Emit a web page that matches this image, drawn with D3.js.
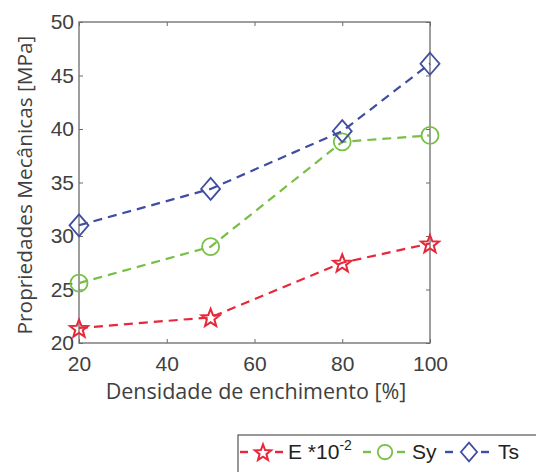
<!DOCTYPE html>
<html><head><meta charset="utf-8">
<script src="https://cdn.jsdelivr.net/npm/d3@7"></script>
<style>body{margin:0;background:#fff}svg{display:block}</style>
</head><body>
<svg id="c" width="536" height="472"></svg>
<script>
const xValues = [20, 50, 80, 100];
const eValues = [21.4, 22.4, 27.5, 29.3];
const syValues = [25.6, 29.0, 38.8, 39.4];
const tsValues = [31.0, 34.4, 39.8, 46.1];
const xTicks = [20, 40, 60, 80, 100];
const yTicks = [20, 25, 30, 35, 40, 45, 50];
const seriesNames = ["E", "Sy", "Ts"];
const seriesColors = ["#e8283a", "#77bf45", "#3f4ea0"];

const svg = d3.select("#c");
const m = {l: 79, t: 22, r: 430, b: 343};
const x = d3.scaleLinear().domain([20, 100]).range([m.l, m.r]);
const y = d3.scaleLinear().domain([20, 50]).range([m.b, m.t]);
const axisCol = "#6b6b6b", txtCol = "#404040";

svg.append("rect").attr("x", m.l).attr("y", m.t).attr("width", m.r - m.l).attr("height", m.b - m.t)
  .attr("fill", "none").attr("stroke", axisCol).attr("stroke-width", 1.3);

const fmt = d => d;
const gx = svg.append("g").attr("transform", `translate(0,${m.b})`)
  .call(d3.axisBottom(x).tickValues(xTicks).tickSize(-4).tickPadding(13).tickFormat(fmt));
const gxt = svg.append("g").attr("transform", `translate(0,${m.t})`)
  .call(d3.axisTop(x).tickValues(xTicks).tickSize(-4).tickFormat(""));
const gy = svg.append("g").attr("transform", `translate(${m.l},0)`)
  .call(d3.axisLeft(y).tickValues(yTicks).tickSize(-4).tickPadding(5).tickFormat(fmt));
const gyr = svg.append("g").attr("transform", `translate(${m.r},0)`)
  .call(d3.axisRight(y).tickValues(yTicks).tickSize(-4).tickFormat(""));
[gx, gxt, gy, gyr].forEach(g => {
  g.select(".domain").remove();
  g.selectAll("line").attr("stroke", axisCol).attr("stroke-width", 1);
  g.selectAll("text").attr("fill", txtCol).style("font-family", "Liberation Sans, Arial, sans-serif").style("font-size", "21px");
});
gx.selectAll("text").attr("dy", "0.72em");

svg.append("text").attr("x", 256).attr("y", 399).attr("text-anchor", "middle")
  .attr("fill", txtCol).style("font-family", "Open Sans, sans-serif").style("font-size", "21.5px")
  .text("Densidade de enchimento [%]");
svg.append("text").attr("transform", `translate(32,185) rotate(-90)`).attr("text-anchor", "middle")
  .attr("fill", txtCol).style("font-family", "Open Sans, sans-serif").style("font-size", "20.8px")
  .text("Propriedades Mecânicas [MPa]");

function starPath(r) {
  const pts = [];
  for (let i = 0; i < 10; i++) {
    const a = -Math.PI / 2 + i * Math.PI / 5;
    const rr = i % 2 === 0 ? r : r * 0.42;
    pts.push([rr * Math.cos(a), rr * Math.sin(a)]);
  }
  return "M" + pts.map(p => p.join(",")).join("L") + "Z";
}
function drawMarker(g, k, cx, cy, s) {
  const col = seriesColors[k];
  if (k === 0) {
    g.append("path").attr("d", starPath(9.5 * s)).attr("transform", `translate(${cx},${cy + 1})`)
      .attr("fill", "none").attr("stroke", col).attr("stroke-width", 2);
  } else if (k === 1) {
    g.append("circle").attr("cx", cx).attr("cy", cy).attr("r", 8.5 * s)
      .attr("fill", "none").attr("stroke", col).attr("stroke-width", 1.8);
  } else {
    g.append("path").attr("d", `M0,${-11 * s}L${9.5 * s},0L0,${11 * s}L${-9.5 * s},0Z`).attr("transform", `translate(${cx},${cy})`)
      .attr("fill", "none").attr("stroke", col).attr("stroke-width", 1.8);
  }
}

const allSeries = [eValues, syValues, tsValues];
const line = d3.line().x((d, i) => x(xValues[i])).y(d => y(d));
allSeries.forEach((vals, k) => {
  const g = svg.append("g");
  g.append("path").datum(vals).attr("d", line).attr("fill", "none")
    .attr("stroke", seriesColors[k]).attr("stroke-width", 2.2).attr("stroke-dasharray", "9,6");
  vals.forEach((v, i) => drawMarker(g, k, x(xValues[i]), y(v), 1));
});

// legend
const lg = svg.append("g");
lg.append("rect").attr("x", 238).attr("y", 435).attr("width", 310).attr("height", 50)
  .attr("fill", "#fff").attr("stroke", "#333").attr("stroke-width", 1);
const legX = [240, 363, 445];
const legMk = [263, 385, 469];
const legTx = [288, 412, 498];
const legText = ["E *10", "Sy", "Ts"];
legX.forEach((lx, k) => {
  const col = seriesColors[k];
  const cy = 452;
  lg.append("line").attr("x1", lx).attr("x2", lx + 8).attr("y1", cy).attr("y2", cy).attr("stroke", col).attr("stroke-width", 2.4);
  lg.append("line").attr("x1", legMk[k] + 12).attr("x2", legMk[k] + 20).attr("y1", cy).attr("y2", cy).attr("stroke", col).attr("stroke-width", 2.4);
  drawMarker(lg, k, legMk[k], cy, k === 0 ? 0.9 : 0.85);
  const t = lg.append("text").attr("x", legTx[k]).attr("y", 459).attr("fill", "#222")
    .style("font-family", "Liberation Sans, Arial, sans-serif").style("font-size", "21px").text(legText[k]);
  if (k === 0) t.append("tspan").attr("dy", -9).style("font-size", "14px").text("-2");
});
</script>
</body></html>
